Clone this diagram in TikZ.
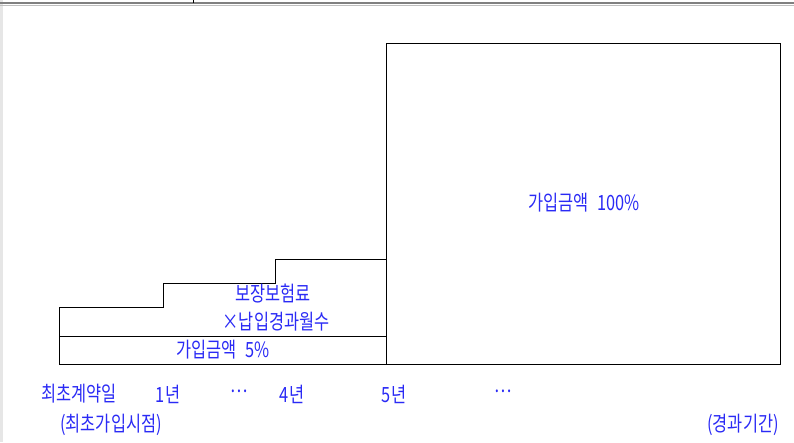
\documentclass[tikz,border=0pt]{standalone}
\usepackage{fontspec}
\setmainfont{Noto Sans CJK KR}
\newfontfamily\korfont[FakeStretch=0.78]{Noto Sans CJK KR}
\definecolor{LabelBlue}{HTML}{2A2AF5}
\definecolor{EdgeGray}{HTML}{E6E6E6}
\usepackage{tikz}
\usetikzlibrary{positioning}

\begin{document}
\begin{tikzpicture}[x=1pt, y=-1pt, every node/.style={font=\korfont\fontsize{21}{25}\selectfont}]
\tikzset{frame/.style={draw=black, line width=0.8pt}}
\tikzset{label/.style={text=LabelBlue, inner sep=0pt, anchor=center}}
\useasboundingbox (0,0) rectangle (794,442);
% page edge
\fill[EdgeGray] (0,0) rectangle (3,442);
\draw[gray, line width=1.2pt] (0,3) -- (794,3);
\draw[gray!50, line width=0.8pt] (0,5.5) -- (794,5.5);
\draw[black, line width=0.8pt] (193,0) -- (193,3);
% 100% block
\draw[frame] (386,43) rectangle (780,364);
% stepped premium
\draw[frame] (59,364) -- (59,307) -- (163,307) -- (163,283) -- (275,283) -- (275,259) -- (386,259);
\draw[frame] (59,336) -- (386,336);
\draw[frame] (59,364) -- (386,364);
\node[label] (full) at (584,203) {가입금액\hspace{5pt} 100\%};
\node[label] (prem) at (273,294) {보장보험료};
\node[label] (months) at (276,322) {×납입경과월수};
\node[label] (five) at (223,350) {가입금액\hspace{5pt} 5\%};
% time axis
\node[label] (start) at (79,394) {최초계약일};
\node[label] (y1) at (168,394) {1년};
\node[label] (dots1) at (239,391) {…};
\node[label] (y4) at (292,394) {4년};
\node[label] (y5) at (394,394) {5년};
\node[label] (dots2) at (503,391) {…};
\node[label] (join) at (111,425) {(최초가입시점)};
\node[label] (period) at (743,425) {(경과기간)};
\end{tikzpicture}
\end{document}
